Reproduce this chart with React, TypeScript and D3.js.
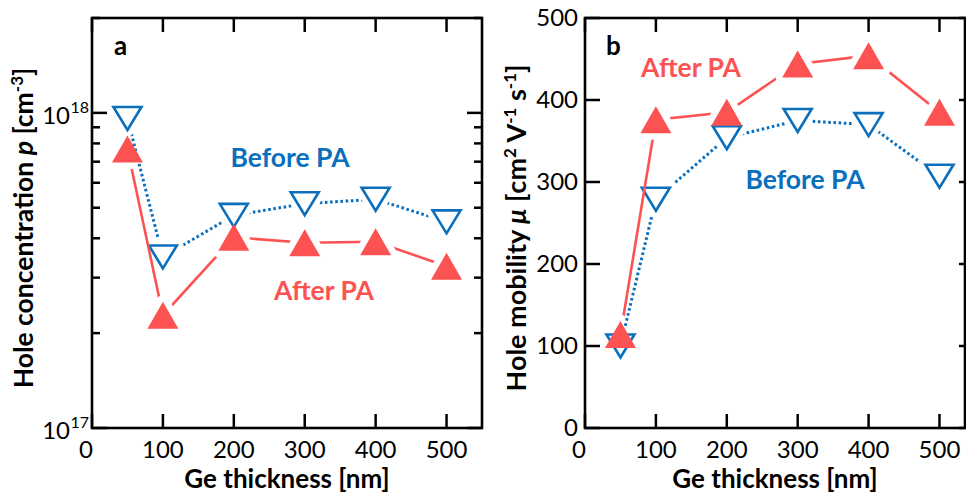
import React from 'react';
import * as d3 from 'd3';

// Ge film thickness [nm]
const thickness = [50, 100, 200, 300, 400, 500];

// Hole concentration [cm^-3]
const concBefore = [9.6e17, 3.49e17, 4.73e17, 5.15e17, 5.32e17, 4.51e17];
const concAfter = [7.68e17, 2.28e17, 4.03e17, 3.87e17, 3.9e17, 3.26e17];

// Hole mobility [cm^2 V^-1 s^-1]
const mobBefore = [100, 279, 354, 375, 370, 307];
const mobAfter = [114, 376, 385, 444, 454, 385];

const xTicks = [0, 100, 200, 300, 400, 500];
const mobTicks = [0, 100, 200, 300, 400, 500];
const concMajor = [1e17, 1e18];
const concMinor = [2e17, 3e17, 4e17, 5e17, 6e17, 7e17, 8e17, 9e17, 2e18];

const BLUE = '#0a6fbd';
const RED = '#fd5252';
const FONT = 'Lato, "Open Sans", sans-serif';
const TICK_FS = 24;
const TITLE_FS = 26;
const NOTE_FS = 26.5;

const W = 966;
const H = 495;

const upTri = (w: number, h: number) => `M0,${-h / 2}L${w / 2},${h / 2}L${-w / 2},${h / 2}Z`;
const downTri = (w: number, h: number) => `M0,${h / 2}L${w / 2},${-h / 2}L${-w / 2},${-h / 2}Z`;

const UP = upTri(31, 27);
const DOWN = downTri(28, 23);

type Series = {
  id: string;
  values: number[];
  color: string;
  marker: 'up' | 'down';
};

function SeriesMarks({ s, x, y }: { s: Series; x: (v: number) => number; y: (v: number) => number }) {
  const pts = thickness.map((t, i) => [x(t), y(s.values[i])] as [number, number]);
  const path = s.marker === 'up' ? UP : DOWN;
  const maskId = `gap-${s.id}`;
  const line = d3.line();
  return (
    <g>
      <mask id={maskId} maskUnits="userSpaceOnUse" x={0} y={0} width={W} height={H}>
        <rect x={0} y={0} width={W} height={H} fill="white" />
        {pts.map((p, i) => (
          <path
            key={i}
            d={path}
            transform={`translate(${p[0]},${p[1]})`}
            fill="black"
            stroke="black"
            strokeWidth={13}
            strokeLinejoin="round"
          />
        ))}
      </mask>
      <path
        d={line(pts) || ''}
        fill="none"
        stroke={s.color}
        strokeWidth={s.marker === 'up' ? 2.6 : 3}
        strokeDasharray={s.marker === 'down' ? '2.6 2.6' : undefined}
        mask={`url(#${maskId})`}
      />
      {pts.map((p, i) => (
        <path
          key={i}
          d={path}
          transform={`translate(${p[0]},${p[1]})`}
          fill={s.marker === 'up' ? s.color : 'white'}
          stroke={s.marker === 'up' ? 'none' : s.color}
          strokeWidth={s.marker === 'up' ? 0 : 2.6}
          strokeLinejoin="miter"
        />
      ))}
    </g>
  );
}

function Frame({
  L,
  R,
  T,
  B,
  x,
}: {
  L: number;
  R: number;
  T: number;
  B: number;
  x: d3.ScaleLinear<number, number>;
}) {
  return (
    <g>
      {xTicks.map((t) => (
        <g key={t}>
          <line x1={x(t)} x2={x(t)} y1={B} y2={B - 14} stroke="black" strokeWidth={2.5} />
          <line x1={x(t)} x2={x(t)} y1={T} y2={T + 14} stroke="black" strokeWidth={2.5} />
          <text
            x={x(t) - (t === 0 ? 6 : 0)}
            y={458}
            textAnchor="middle"
            fontFamily={FONT}
            fontSize={TICK_FS}
            fill="black"
          >
            {t}
          </text>
        </g>
      ))}
      <rect x={L} y={T} width={R - L} height={B - T} fill="none" stroke="black" strokeWidth={2.6} />
      <text
        x={(L + R) / 2}
        y={488}
        textAnchor="middle"
        fontFamily={FONT}
        fontWeight="bold"
        fontSize={TITLE_FS}
        fill="black"
      >
        Ge thickness [nm]
      </text>
    </g>
  );
}

export default function App() {
  // Panel a: hole concentration (log scale)
  const aL = 92,
    aR = 482,
    T = 18,
    B = 428;
  const xa = d3.scaleLinear().domain([0, 550]).range([aL, aR]);
  const ya = d3.scaleLog().domain([1e17, 2e18]).range([B, T]);

  // Panel b: hole mobility (linear scale)
  const bL = 585,
    bR = 965;
  const xb = d3.scaleLinear().domain([0, 536]).range([bL, bR]);
  const yb = d3.scaleLinear().domain([0, 500]).range([B, T]);

  const concSeries: Series[] = [
    { id: 'a-before', values: concBefore, color: BLUE, marker: 'down' },
    { id: 'a-after', values: concAfter, color: RED, marker: 'up' },
  ];
  const mobSeries: Series[] = [
    { id: 'b-before', values: mobBefore, color: BLUE, marker: 'down' },
    { id: 'b-after', values: mobAfter, color: RED, marker: 'up' },
  ];

  return (
    <svg
      width={W}
      height={H}
      viewBox={`0 0 ${W} ${H}`}
      style={{ position: 'absolute', left: 0, top: 0, background: 'white' }}
    >
      <rect x={0} y={0} width={W} height={H} fill="white" />

      {/* Panel a */}
      <g>
        {concMajor.map((v) => (
          <g key={v}>
            <line x1={aL} x2={aL + 15} y1={ya(v)} y2={ya(v)} stroke="black" strokeWidth={2.5} />
            <line x1={aR} x2={aR - 15} y1={ya(v)} y2={ya(v)} stroke="black" strokeWidth={2.5} />
            <text x={aL - 22} y={ya(v) + 11} textAnchor="end" fontFamily={FONT} fontSize={24} fill="black">
              10
            </text>
            <text x={aL - 3} y={ya(v) + 0} textAnchor="end" fontFamily={FONT} fontSize={16} fill="black">
              {Math.round(Math.log10(v))}
            </text>
          </g>
        ))}
        {concMinor.map((v) => (
          <g key={v}>
            <line x1={aL} x2={aL + 8} y1={ya(v)} y2={ya(v)} stroke="black" strokeWidth={2.5} />
            <line x1={aR} x2={aR - 8} y1={ya(v)} y2={ya(v)} stroke="black" strokeWidth={2.5} />
          </g>
        ))}
        <Frame L={aL} R={aR} T={T} B={B} x={xa} />
        {concSeries.map((s) => (
          <SeriesMarks key={s.id} s={s} x={xa} y={ya} />
        ))}
        <text x={114} y={55} fontFamily={FONT} fontWeight="bold" fontSize={26} fill="black">
          a
        </text>
        <text x={290} y={167} textAnchor="middle" fontFamily={FONT} fontWeight="bold" fontSize={NOTE_FS} fill={BLUE}>
          Before PA
        </text>
        <text x={324} y={300} textAnchor="middle" fontFamily={FONT} fontWeight="bold" fontSize={NOTE_FS} fill={RED}>
          After PA
        </text>
        <text
          transform="translate(33,228) rotate(-90)"
          textAnchor="middle"
          fontFamily={FONT}
          fontWeight="bold"
          fontSize={26.5}
          fill="black"
        >
          Hole concentration <tspan fontStyle="italic">p</tspan> [cm
          <tspan dy={-10} fontSize={17}>
            -3
          </tspan>
          <tspan dy={10}>]</tspan>
        </text>
      </g>

      {/* Panel b */}
      <g>
        {mobTicks.map((v) => (
          <g key={v}>
            <line x1={bL} x2={bL + 15} y1={yb(v)} y2={yb(v)} stroke="black" strokeWidth={2.5} />
            <line x1={bR} x2={bR - 6} y1={yb(v)} y2={yb(v)} stroke="black" strokeWidth={2.5} />
            <text x={bL - 7} y={yb(v) + 8} textAnchor="end" fontFamily={FONT} fontSize={TICK_FS} fill="black">
              {v}
            </text>
          </g>
        ))}
        <Frame L={bL} R={bR} T={T} B={B} x={xb} />
        {mobSeries.map((s) => (
          <SeriesMarks key={s.id} s={s} x={xb} y={yb} />
        ))}
        <text x={606} y={55} fontFamily={FONT} fontWeight="bold" fontSize={26} fill="black">
          b
        </text>
        <text x={691} y={77} textAnchor="middle" fontFamily={FONT} fontWeight="bold" fontSize={NOTE_FS} fill={RED}>
          After PA
        </text>
        <text x={805} y={189} textAnchor="middle" fontFamily={FONT} fontWeight="bold" fontSize={NOTE_FS} fill={BLUE}>
          Before PA
        </text>
        <text
          transform="translate(526,228) rotate(-90)"
          textAnchor="middle"
          fontFamily={FONT}
          fontWeight="bold"
          fontSize={27}
          fill="black"
        >
          Hole mobility <tspan fontStyle="italic">μ</tspan> [cm
          <tspan dy={-10} fontSize={17}>
            2
          </tspan>
          <tspan dy={10}> V</tspan>
          <tspan dy={-10} fontSize={17}>
            -1
          </tspan>
          <tspan dy={10}> s</tspan>
          <tspan dy={-10} fontSize={17}>
            -1
          </tspan>
          <tspan dy={10}>]</tspan>
        </text>
      </g>
    </svg>
  );
}
